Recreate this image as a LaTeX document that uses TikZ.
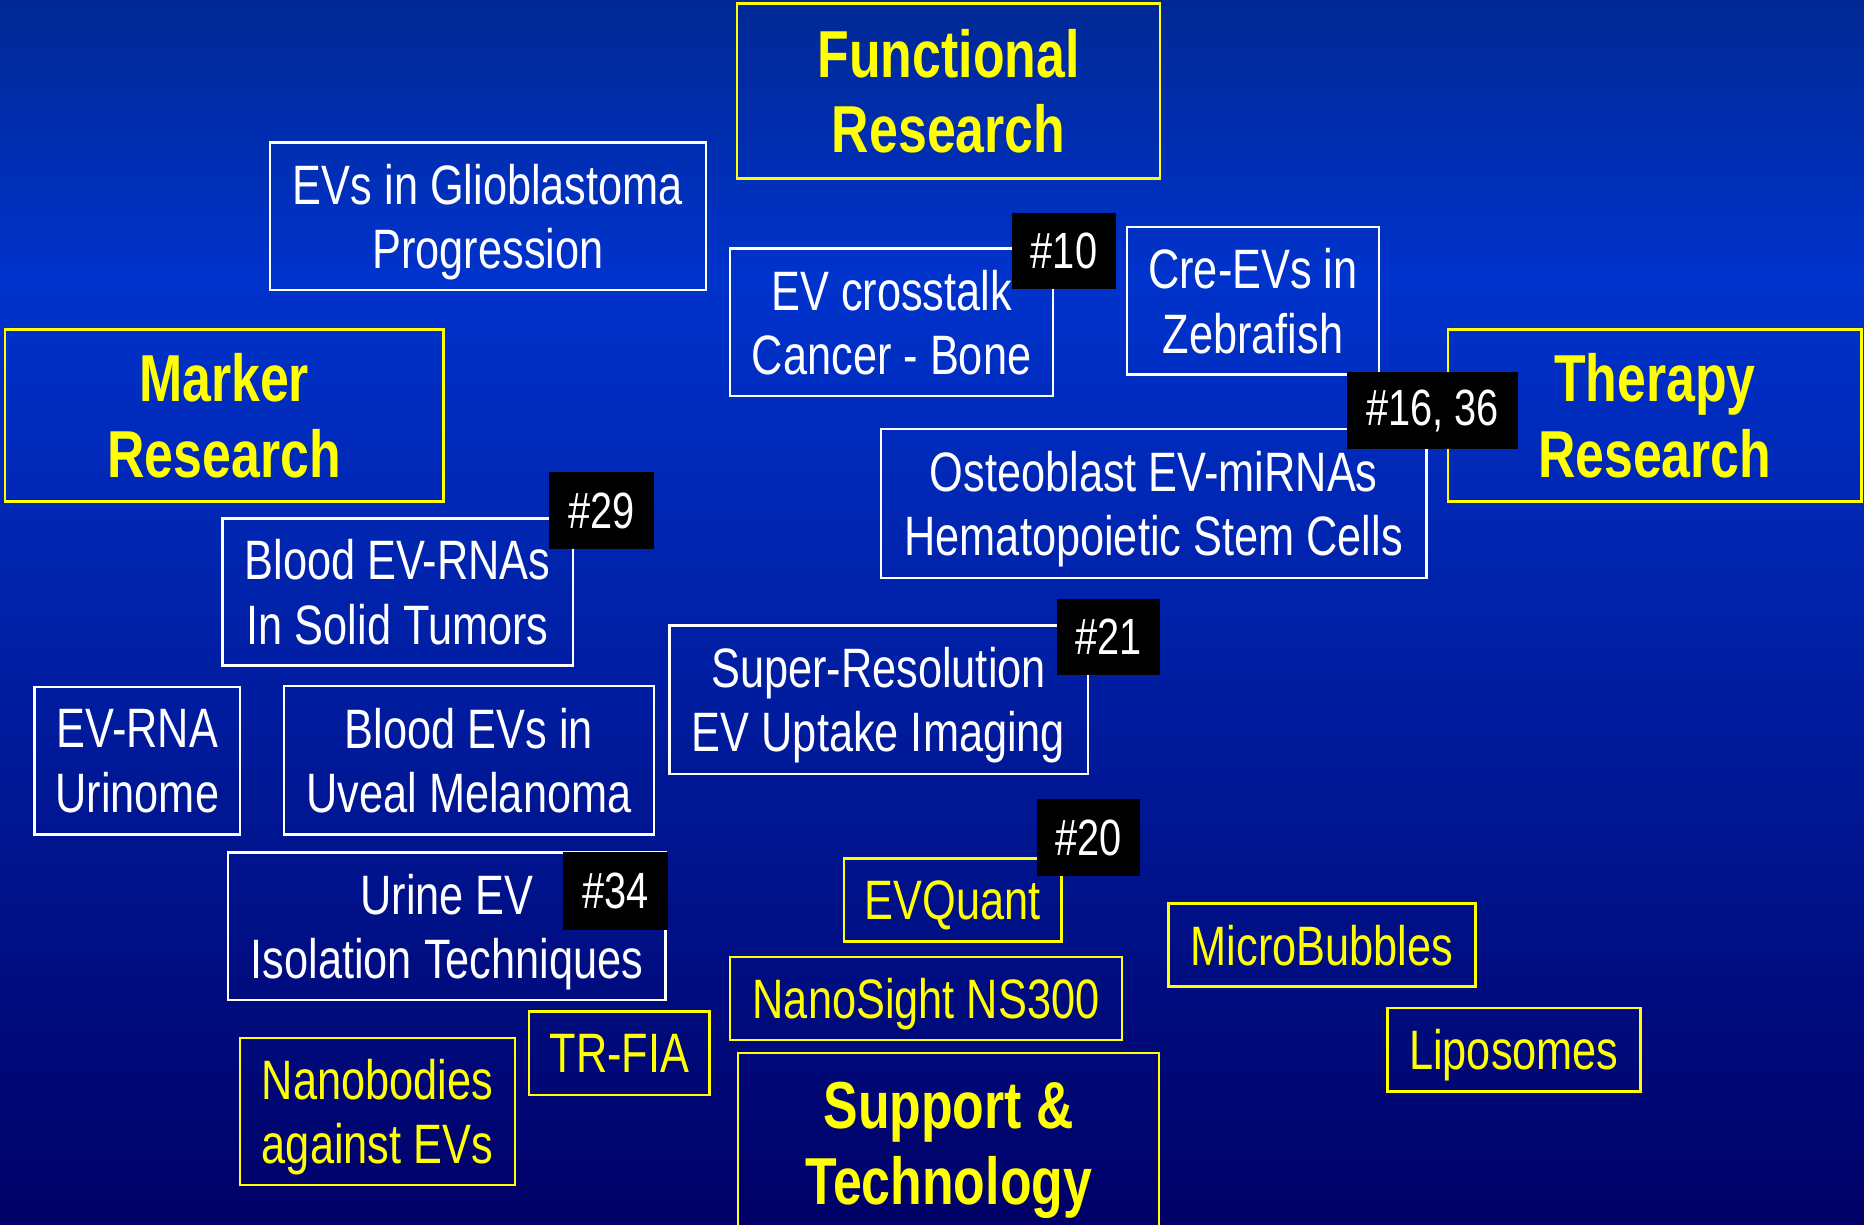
\documentclass[tikz,border=0pt]{standalone}
\usepackage{fontspec}
\setmainfont{Liberation Sans}[FakeStretch=0.78]
\definecolor{cBgTop}{HTML}{002894}
\definecolor{cBgMid}{HTML}{0033CC}
\definecolor{cBgBot}{HTML}{000066}
\definecolor{cHead}{HTML}{FFFF00}
\newcommand{\pxu}{0.011888cm}
\tikzset{
  boxsize/.style 2 args={
    minimum width=#1*\pxu,
    minimum height=#2*\pxu
  },
  plainbox/.style={
    draw=#1, line width=0.7pt,
    inner sep=0pt,
    text depth=0pt,
    align=center,
    text=#1
  },
  headbox/.style={
    plainbox=cHead,
    font=\fontsize{18.9}{21.6}\selectfont\bfseries
  },
  topicbox/.style={
    plainbox=white,
    font=\fontsize{15.8}{18.3}\selectfont
  },
  techbox/.style={
    plainbox=cHead,
    font=\fontsize{15.8}{18.3}\selectfont
  },
  tagbox/.style={
    fill=black,
    text=white,
    inner sep=0pt,
    font=\fontsize{14.5}{16}\selectfont
  }
}

\begin{document}
\begin{tikzpicture}[x=\pxu, y=-\pxu]
  \useasboundingbox (0,0) rectangle (1568,1030);
  \shade[top color=cBgTop, bottom color=cBgMid] (0,0) rectangle (1568,235);
  \shade[top color=cBgMid, bottom color=cBgBot] (0,235) rectangle (1568,1030);

  \node[headbox, boxsize={356}{147}] (func) at (798,76.5) {Functional\\Research};
  \node[headbox, boxsize={369}{145}] (marker) at (188.5,349.5) {Marker\\Research};
  \node[headbox, boxsize={348}{145}] (therapy) at (1392,349.5) {Therapy\\Research};
  \node[headbox, boxsize={354}{152}] (support) at (798,962) {Support \&\\Technology};

  \node[topicbox, boxsize={367}{124}] (glio) at (410.5,182) {EVs in Glioblastoma\\Progression};
  \node[topicbox, boxsize={272}{124}] (crosstalk) at (750,271) {EV crosstalk\\Cancer - Bone};
  \node[topicbox, boxsize={212}{124}] (cre) at (1054,253) {Cre-EVs in\\Zebrafish};
  \node[topicbox, boxsize={459}{125}] (osteo) at (970.5,423.5) {Osteoblast EV-miRNAs\\Hematopoietic Stem Cells};
  \node[topicbox, boxsize={295}{124}] (bloodrna) at (334.5,498) {Blood EV-RNAs\\In Solid Tumors};
  \node[topicbox, boxsize={352}{125}] (superres) at (739,588.5) {Super-Resolution\\EV Uptake Imaging};
  \node[topicbox, boxsize={173}{124}] (urinome) at (115.5,640) {EV-RNA\\Urinome};
  \node[topicbox, boxsize={311}{125}] (uveal) at (394.5,639.5) {Blood EVs in\\Uveal Melanoma};
  \node[topicbox, boxsize={368}{124}] (urine) at (376,779) {Urine EV\\Isolation Techniques};

  \node[techbox, boxsize={183}{70}] (evquant) at (801.5,757) {EVQuant};
  \node[techbox, boxsize={258}{70}] (bubbles) at (1112,795) {MicroBubbles};
  \node[techbox, boxsize={330}{70}] (nanosight) at (779,840) {NanoSight NS300};
  \node[techbox, boxsize={152}{70}] (trfia) at (521,886) {TR-FIA};
  \node[techbox, boxsize={231}{124}] (nanobody) at (317.5,935) {Nanobodies\\against EVs};
  \node[techbox, boxsize={213}{70}] (lipo) at (1273.5,883) {Liposomes};

  \node[tagbox, boxsize={88}{64}] (tag10) at (895,211) {\#10};
  \node[tagbox, boxsize={144}{65}] (tag16) at (1205,345.5) {\#16, 36};
  \node[tagbox, boxsize={88}{65}] (tag29) at (506,429.5) {\#29};
  \node[tagbox, boxsize={87}{64}] (tag21) at (932.5,536) {\#21};
  \node[tagbox, boxsize={87}{65}] (tag20) at (915.5,704.5) {\#20};
  \node[tagbox, boxsize={88}{65}] (tag34) at (518,749.5) {\#34};
\end{tikzpicture}
\end{document}
